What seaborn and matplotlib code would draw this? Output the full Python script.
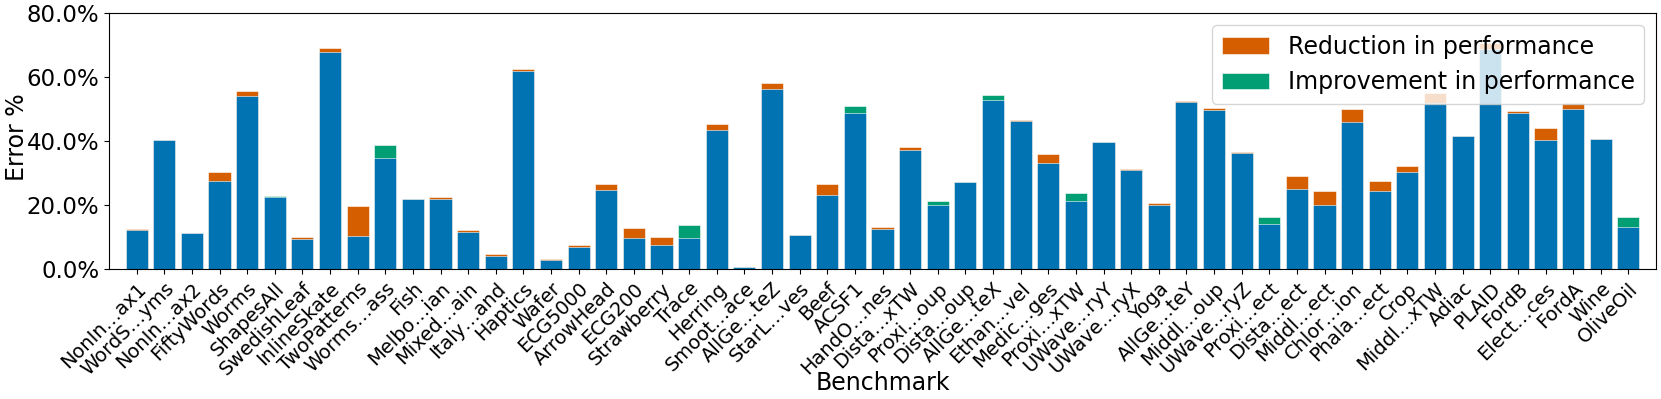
import pandas as pd
import seaborn as sns
import matplotlib.pyplot as plt
from matplotlib.ticker import FuncFormatter

# ---- data (error % per benchmark) ----
benchmarks = [
    "NonIn…ax1", "WordS…yms", "NonIn…ax2", "FiftyWords", "Worms", "ShapesAll",
    "SwedishLeaf", "InlineSkate", "TwoPatterns", "Worms…ass", "Fish", "Melbo…ian",
    "Mixed…ain", "Italy…and", "Haptics", "Wafer", "ECG5000", "ArrowHead", "ECG200",
    "Strawberry", "Trace", "Herring", "Smoot…ace", "AllGe…teZ", "StarL…ves", "Beef",
    "ACSF1", "HandO…nes", "Dista…xTW", "Proxi…oup", "Dista…oup", "AllGe…teX",
    "Ethan…vel", "Medic…ges", "Proxi…xTW", "UWave…ryY", "UWave…ryX", "Yoga",
    "AllGe…teY", "Middl…oup", "UWave…ryZ", "Proxi…ect", "Dista…ect", "Middl…ect",
    "Chlor…ion", "Phala…ect", "Crop", "Middl…xTW", "Adiac", "PLAID", "FordB",
    "Elect…ces", "FordA", "Wine", "OliveOil",
]
base_error = [
    12.2, 40.3, 11.2, 27.7, 54.3, 22.5, 9.6, 67.9, 10.4, 34.8, 22.1, 21.9,
    11.8, 4.3, 61.9, 2.9, 6.9, 24.9, 9.8, 7.5, 9.8, 43.6, 0.7, 56.2, 10.7, 23.1,
    48.8, 12.5, 37.2, 20.2, 27.2, 53.0, 46.2, 33.2, 21.3, 39.8, 31.0, 20.1,
    52.2, 49.9, 36.2, 14.3, 25.1, 20.0, 45.9, 24.5, 30.3, 52.1, 41.6, 68.8, 48.7,
    40.5, 50.1, 40.6, 13.1,
]
reduction = [
    0.3, 0, 0, 2.6, 1.3, 0, 0.5, 1.2, 9.4, 0, 0, 0.7,
    0.6, 0.4, 0.6, 0.3, 0.6, 1.9, 3.0, 2.7, 0, 1.7, 0, 1.9, 0, 3.5,
    0, 0.6, 1.0, 0, 0, 0, 0.5, 2.8, 0, 0, 0.5, 0.6,
    0.3, 0.6, 0.4, 0, 4.2, 4.5, 4.1, 3.2, 1.9, 2.9, 0, 1.8, 0.7,
    3.7, 2.0, 0, 0,
]
improvement = [
    0, 0, 0, 0, 0, 0.3, 0, 0, 0, 4.0, 0, 0,
    0, 0, 0, 0, 0, 0, 0, 0, 4.0, 0, 0, 0, 0, 0,
    2.1, 0, 0, 1.1, 0, 1.6, 0, 0, 2.6, 0, 0, 0,
    0, 0, 0, 2.1, 0, 0, 0, 0, 0, 0, 0, 0, 0,
    0, 0, 0, 3.4,
]

RED_LABEL = "Reduction in performance"
IMP_LABEL = "Improvement in performance"

df = pd.DataFrame({"benchmark": benchmarks, "base": base_error,
                   "reduction": reduction, "improvement": improvement})
df["total"] = df["base"] + df["reduction"] + df["improvement"]
df["kind"] = [IMP_LABEL if v > 0 else RED_LABEL for v in df["improvement"]]

blue, orange, green = "#0173B2", "#D55E00", "#029E73"

fig, ax = plt.subplots(figsize=(16.61, 3.99), dpi=100)
fig.subplots_adjust(left=109 / 1661, right=1656 / 1661,
                    top=1 - 13.3 / 399, bottom=1 - 269.3 / 399)

# top segment first (full height, coloured by kind), then blue base over it
sns.barplot(data=df, x="benchmark", y="total", hue="kind",
            hue_order=[RED_LABEL, IMP_LABEL], palette=[orange, green],
            dodge=False, saturation=1, errorbar=None, width=0.8,
            edgecolor="white", linewidth=0.4, ax=ax)
handles, labels = ax.get_legend_handles_labels()
sns.barplot(data=df, x="benchmark", y="base", color=blue, saturation=1,
            errorbar=None, width=0.8, edgecolor="white", linewidth=0.4, ax=ax)

ax.set_xlim(-1, len(benchmarks))
ax.set_ylim(0, 80)
ax.set_yticks([0, 20, 40, 60, 80])
ax.yaxis.set_major_formatter(FuncFormatter(lambda v, p: f"{v:.1f}%"))
ax.tick_params(axis="y", labelsize=16.5)
plt.setp(ax.get_xticklabels(), rotation=45, ha="right",
         rotation_mode="anchor", fontsize=14)
ax.set_xlabel("Benchmark", fontsize=17)
ax.set_ylabel("Error %", fontsize=17)
ax.xaxis.set_label_coords(0.5, -0.397)
ax.yaxis.set_label_coords(-0.0514, 0.515)

ax.legend(handles, labels, loc="upper right", fontsize=17)

plt.savefig("out.png")
